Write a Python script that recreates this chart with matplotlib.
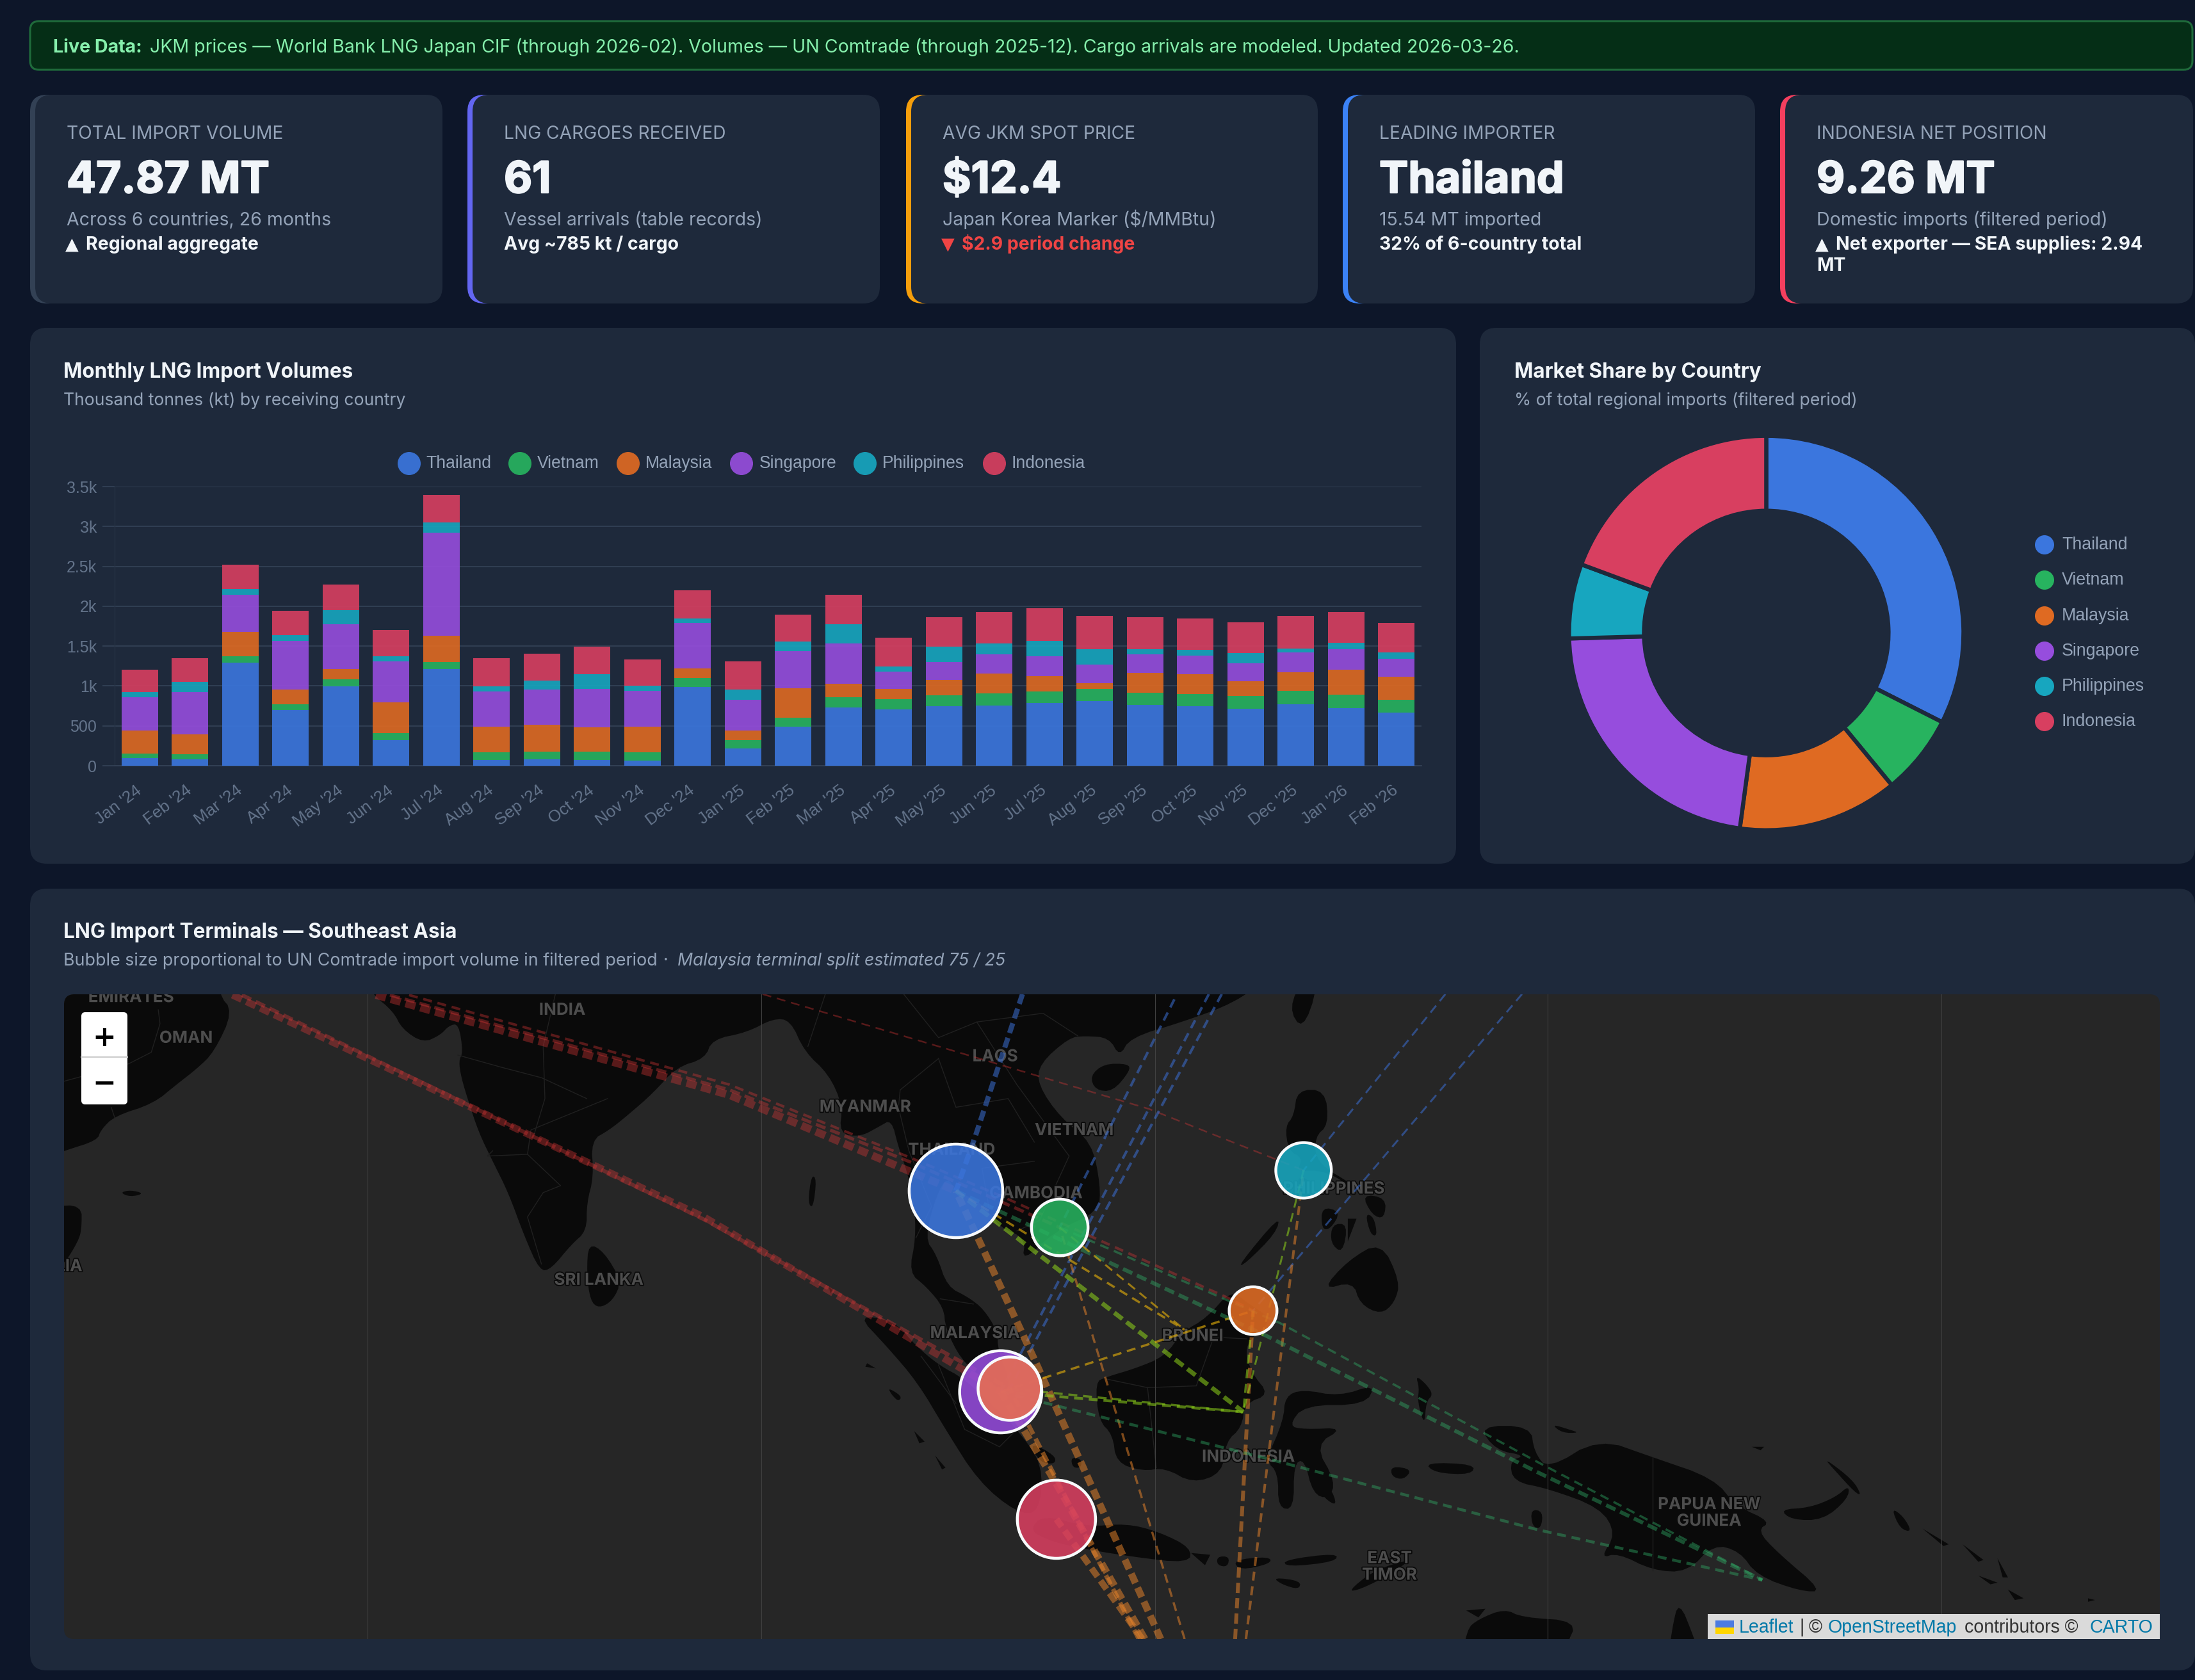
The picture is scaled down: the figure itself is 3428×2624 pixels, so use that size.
# LNG dashboard - KPI cards, stacked bars, donut and terminal map
import numpy as np
import matplotlib
matplotlib.use("Agg")
import matplotlib.pyplot as plt
from matplotlib.patches import FancyBboxPatch, Circle, Polygon, Rectangle
from matplotlib.transforms import ScaledTranslation
import matplotlib.patheffects as pe

W, H = 3428, 2624
plt.rcParams['font.family'] = ['Inter', 'DejaVu Sans']
plt.rcParams['lines.scale_dashes'] = False

# ---- data ----
countries = ['Thailand', 'Vietnam', 'Malaysia', 'Singapore', 'Philippines', 'Indonesia']
colors = ['#3B76DE', '#27B35F', '#DF6A22', '#964DDD', '#17A6BF', '#D83F60']

months = ["Jan '24", "Feb '24", "Mar '24", "Apr '24", "May '24", "Jun '24", "Jul '24", "Aug '24",
          "Sep '24", "Oct '24", "Nov '24", "Dec '24", "Jan '25", "Feb '25", "Mar '25", "Apr '25",
          "May '25", "Jun '25", "Jul '25", "Aug '25", "Sep '25", "Oct '25", "Nov '25", "Dec '25",
          "Jan '26", "Feb '26"]
thailand = [95, 78, 1294, 696, 997, 318, 1209, 71, 81, 74, 61, 990, 213, 493, 733, 706, 743, 757, 784, 814, 763, 750, 716, 770, 720, 665]
vietnam = [60, 68, 78, 78, 84, 88, 95, 101, 98, 101, 111, 108, 111, 108, 125, 132, 138, 149, 149, 152, 152, 152, 159, 169, 169, 159]
malaysia = [287, 247, 307, 182, 132, 385, 328, 314, 331, 307, 314, 125, 118, 368, 172, 122, 193, 253, 193, 68, 253, 243, 186, 236, 318, 294]
singapore = [419, 527, 466, 611, 561, 517, 1290, 446, 449, 483, 456, 564, 382, 470, 503, 220, 230, 240, 250, 236, 226, 236, 220, 247, 250, 223]
philippines = [60, 128, 68, 68, 176, 64, 128, 64, 108, 182, 64, 61, 128, 118, 240, 68, 186, 138, 186, 193, 68, 74, 135, 44, 84, 78]
indonesia = [287, 300, 311, 304, 324, 328, 345, 355, 334, 345, 328, 351, 355, 338, 372, 361, 375, 392, 409, 419, 399, 392, 382, 415, 385, 375]
y_ticks = [0, 500, 1000, 1500, 2000, 2500, 3000, 3500]
y_tick_labels = ['0', '500', '1k', '1.5k', '2k', '2.5k', '3k', '3.5k']

share_mt = [15.54, 3.14, 6.28, 10.73, 2.92, 9.26]

kpi_labels = ['TOTAL IMPORT VOLUME', 'LNG CARGOES RECEIVED', 'AVG JKM SPOT PRICE', 'LEADING IMPORTER', 'INDONESIA NET POSITION']
kpi_values = ['47.87 MT', '61', '$12.4', 'Thailand', '9.26 MT']
kpi_subs = ['Across 6 countries, 26 months', 'Vessel arrivals (table records)', 'Japan Korea Marker ($/MMBtu)',
            '15.54 MT imported', 'Domestic imports (filtered period)']
kpi_marks = ['▲', '', '▼', '', '▲']
kpi_deltas = ['Regional aggregate', 'Avg ~785 kt / cargo', '$2.9 period change', '32% of 6-country total',
              'Net exporter — SEA supplies: 2.94\nMT']
kpi_accents = ['#334155', '#6366F1', '#F59E0B', '#3B82F6', '#F43F5E']

# terminals: lon, lat, volume in MT (Malaysia split 75/25)
term_names = ['TH', 'VN', 'MS', 'PH', 'SG', 'MY', 'ID']
term_lon = [101.0, 106.96, 118.06, 120.96, 103.57, 104.09, 106.77]
term_lat = [12.7, 10.6, 5.82, 13.88, 1.16, 1.34, -6.16]
term_mt = [15.54, 3.14, 1.57, 2.92, 10.73, 4.71, 9.26]
term_color = ['#3B76DE', '#27B35F', '#DF6A22', '#17A6BF', '#964DDD', '#E86E50', '#D83F60']

PNG = (147.3, -9.65)
BONTANG = (117.5, 0.0)
BRUNEI = (114.13, 4.72)
T = {n: (a, b) for n, a, b in zip(term_names, term_lon, term_lat)}

# shipping routes: colour group, weight, waypoints
routes = [
    ('red', 11, [(59.46, 23.95), (86.55, 11.19), T['SG']]),
    ('red', 6, [(60.0, 23.95), (86.55, 11.05), T['MY']]),
    ('red', 12, [(67.7, 23.95), (88.0, 18.2), T['TH']]),
    ('red', 5, [(68.5, 23.95), (88.0, 18.5), (98.4, 14.35), T['VN']]),
    ('red', 4, [(69.6, 23.95), (88.0, 18.8), (98.4, 14.6), (103.6, 12.4), (116.6, 6.56), T['MS']]),
    ('red', 2.5, [(89.9, 24), (112.1, 17.4), T['PH']]),
    ('blue', 8, [(104.82, 24), (102.1, 15.8), T['TH']]),
    ('blue', 4, [(113.54, 23.7), T['VN']]),
    ('blue', 4, [(115.52, 24), T['SG']]),
    ('blue', 4, [(116.26, 24), T['MY']]),
    ('blue', 3, [(129.1, 24), T['PH']]),
    ('blue', 3, [(133.5, 24), T['MS']]),
    ('orange', 11, [(112.76, -13.04), (105.45, 3.14), T['TH']]),
    ('orange', 11, [(111.85, -13.04), (106.66, -3.95), T['SG']]),
    ('orange', 10, [(111.7, -13.04), T['ID']]),
    ('orange', 3.5, [(114.13, -13.04), T['VN']]),
    ('orange', 6, [(117.03, -13.04), T['MS']]),
    ('orange', 4, [(117.65, -13.04), T['PH']]),
    ('orange', 7, [(111.5, -13.04), T['MY']]),
    ('green', 6, [T['TH'], (118.87, 4.35), (134.35, -3.44), PNG]),
    ('green', 3.5, [T['VN'], (119.64, 5.09), (134.35, -2.85), PNG]),
    ('green', 4.5, [T['SG'], (118.57, -2.6), (134.35, -6.75), PNG]),
    ('lime', 7, [T['TH'], BONTANG]),
    ('lime', 4.5, [T['SG'], BONTANG]),
    ('lime', 3.5, [T['MY'], BONTANG]),
    ('lime', 3.5, [T['MS'], BONTANG]),
    ('lime', 3, [T['PH'], BONTANG]),
    ('yellow', 3.5, [T['TH'], BRUNEI]),
    ('yellow', 3, [T['VN'], BRUNEI]),
    ('yellow', 3.5, [T['SG'], T['MS']]),
]
route_colors = {'red': ('#D93636', .38), 'blue': ('#3B6FD4', .55), 'orange': ('#E8842A', .52),
                'green': ('#30B068', .42), 'lime': ('#8FD41A', .55), 'yellow': ('#EAB308', .6)}

# land outlines, lon/lat
land = [
    [(47, 26), (58.7, 26), (58.66, 24), (59.5, 23), (58.4, 20.66), (57.4, 19.7), (56.3, 18.85), (54.9, 17.7), (52.7, 17.0), (51.9, 16.2), (51.7, 15.6), (49.8, 15.0), (47, 14)],
    [(49, 11.8), (50.8, 11.9), (50.8, 10.5), (50.6, 9.8), (49.8, 8.5), (49, 8)],
    [(53, 12.6), (53.6, 12.75), (54.4, 12.55), (53.6, 12.35)],
    # Asia mainland: India, Bengal, Burma, Malay peninsula, Indochina, China
    [(66, 26), (67.5, 24), (68.7, 23.0), (69.2, 22.0), (70.4, 21.2), (71.4, 21.65), (71.9, 22.2), (72.45, 22.3), (72.7, 20.66), (72.45, 20.17),
     (72.6, 19.2), (73, 17.87), (73.6, 16.06), (74.4, 14.4), (75.3, 12.6), (76.2, 10.15), (77.1, 8.1), (77.75, 8.2), (78.9, 9.6), (79.8, 10.4),
     (79.8, 12), (80.2, 13.5), (80.05, 15.6), (81.1, 16.2), (82.1, 17.0), (83.6, 18.3), (84.95, 19.8), (86.6, 20.3), (87, 21.4), (89, 21.8),
     (90.5, 22.6), (91.5, 22.5), (92.3, 20.7), (93.7, 19.4), (94.5, 17.6), (94.3, 16), (95.5, 15.8), (96.6, 16.4), (97.3, 16.8), (97.7, 15.2),
     (98.2, 13.8), (98.6, 12), (98.7, 10), (98.3, 8), (99.3, 7.2), (100.3, 6), (100.4, 4.8), (101.3, 3), (102.5, 2), (103.5, 1.3), (104.2, 1.4),
     (103.4, 3.6), (103.4, 4.6), (102.6, 5.9), (101.7, 6.6), (100.5, 7.2), (99.9, 9), (99.2, 10), (99.9, 12.5), (100.5, 13.5), (101, 12.7),
     (102.5, 12), (103.5, 10.6), (105, 10), (104.8, 8.6), (106.7, 10.4), (109.2, 11.5), (109.3, 13), (108.8, 15.5), (107, 16.9), (105.7, 18.8),
     (105.8, 20), (107.5, 21.5), (108.4, 21.6), (109.8, 21.5), (110.4, 20.4), (111, 21.5), (114, 22.4), (117, 23.5), (119, 25), (119, 26)],
    [(79.9, 9.7), (80.8, 9.2), (81.8, 7.5), (81.3, 6.4), (80.5, 5.95), (80, 6.4), (79.8, 8)],
    [(108.7, 19.3), (109.5, 20), (110.9, 20), (111, 19.6), (110, 18.4), (109, 18.5)],
    [(120.1, 23.2), (120.9, 21.9), (121.8, 24.4), (121, 25)],
    [(95.3, 5.6), (97.5, 5.2), (98.6, 3.9), (100, 2.7), (101.5, 1.9), (103.5, 0), (104.5, -1), (106, -3), (105.8, -5.8), (104.5, -5.8), (102.3, -4), (100.4, -1), (98.8, 1.7), (97, 3.8)],
    [(105.2, -6.8), (106, -5.9), (108.5, -6.6), (110.8, -6.4), (112.7, -6.9), (114.5, -7.8), (114.4, -8.7), (111, -8.3), (108, -7.8), (106.4, -7.4)],
    [(114.5, -8.1), (115.6, -8.2), (115.3, -8.8)],
    [(116, -8.3), (116.7, -8.3), (116.6, -8.9), (116, -8.8)],
    [(116.9, -8.5), (119, -8.3), (119.1, -8.7), (117.3, -9.1)],
    [(119.8, -8.5), (122.9, -8.1), (122.8, -8.6), (120, -8.9)],
    [(119.2, -9.5), (120.8, -9.7), (120.7, -10.2), (119.7, -9.9)],
    [(123.5, -10.3), (125, -9.1), (127.2, -8.4), (126, -9.3), (124.2, -10.2)],
    [(109, 1.7), (109.6, 2), (111.3, 2.5), (113, 3.2), (114, 4.6), (115.4, 5.4), (116.8, 7), (117.7, 6.3), (119.2, 5.3), (118, 4.3), (117.6, 3.5), (118, 2.2), (119, 1), (117.6, 0.5),
     (117.4, -0.9), (116.5, -1.7), (116.3, -3.5), (114.6, -4.1), (113, -3.2), (111.7, -3.4), (110.2, -2.9), (110, -1.3), (109.2, -0.5)],
    [(119.9, 0.9), (120.9, 1.3), (123, 0.9), (125.1, 1.6), (124.5, 0.4), (121, 0.4), (120.1, -0.8), (121, -1), (123.3, -0.9), (121.6, -1.9), (122.8, -4), (122.4, -5), (121.5, -4.7),
     (121, -2.7), (120.4, -3), (120.4, -5.6), (119.5, -5.5), (119.5, -3.5), (118.8, -2.8), (119.8, -0.5)],
    [(120.6, 18.5), (122.2, 18.5), (122.4, 16.5), (121.6, 15.8), (121.7, 14.3), (123.9, 13), (124, 12.6), (122.9, 13.5), (121.7, 13.9), (120.6, 13.8), (120.9, 14.6), (120.1, 15), (119.9, 16.4), (120.4, 17)],
    [(122, 7), (123.5, 8.7), (125.4, 9.8), (126.5, 7.5), (126.2, 6.3), (125.4, 5.6), (124.2, 6.2), (123.8, 7.5)],
    [(117.2, 8.4), (119.6, 11.3), (119.4, 10.3), (117.6, 8.5)],
    [(124.3, 12.5), (125.7, 12.3), (125.6, 11.1), (124.9, 11.3)],
    [(124.5, 11.4), (125, 11.2), (125.2, 10.1), (124.8, 10.2)],
    [(122, 11.8), (123.1, 11.5), (122.5, 10.5), (122, 10.5)],
    [(122.6, 10.8), (123.5, 10.8), (123.2, 9.1), (122.5, 9.7)],
    [(123.5, 11.1), (124, 11.1), (123.5, 9.8)],
    [(120.5, 13.5), (121.3, 13.4), (121.4, 12.3), (121, 12.3)],
    [(105.2, -1.7), (106.7, -2.5), (106.7, -3.0), (105.8, -2.9)],
    [(107.6, -2.6), (108.2, -2.7), (108.2, -3.2), (107.7, -3.2)],
    [(95.9, 2.8), (96.4, 2.5), (95.8, 2.6)],
    [(97.1, 1.4), (97.9, 0.9), (97.7, 0.6), (97.3, 1)],
    [(98.6, -1.1), (99.2, -1.7), (98.9, -1.8)],
    [(99.8, -2.5), (100.4, -3.2), (100.2, -3.3)],
    [(92.7, 13.6), (93, 13.4), (92.8, 11.7), (92.5, 12)],
    [(93.7, 7.2), (93.9, 7), (93.8, 6.8)],
    [(127.4, 2.1), (128, 1.6), (128.4, 1), (128, 0.6), (127.9, -0.8), (127.5, 0.6), (127.6, 1.4)],
    [(127.9, -2.9), (130.8, -3), (130.6, -3.6), (128.5, -3.5)],
    [(126, -3.1), (127.2, -3.3), (126.7, -3.9), (126, -3.7)],
    [(121.7, -4.2), (122.5, -4.3), (122.9, -5.4), (122.2, -5)],
    [(131, -0.8), (134, -0.8), (134.2, -2.3), (135, -3.3), (137.9, -1.5), (141, -2.6), (144.5, -3.8), (145.8, -5.4), (147.8, -6.3), (147, -6.8), (148.2, -8.1), (150.8, -10.3),
     (149.5, -10.3), (147, -9.4), (146, -8), (144.5, -7.6), (143, -9.2), (141, -9.1), (139, -8.1), (138, -8.4), (138.9, -7), (138, -5.5), (135, -4.4), (133, -4), (132.8, -2.8), (133.7, -2.5), (132, -2.2)],
    [(135.2, -0.7), (136.2, -1), (136.8, -1.2), (135.8, -1.2)],
    [(134, -5.6), (134.7, -5.7), (134.6, -6.7), (134.1, -6.6)],
    [(148.3, -5.6), (150, -5.5), (151.5, -4.9), (152.3, -4.2), (152.2, -5), (150.8, -6.2), (149, -6.2)],
    [(150.8, -2.6), (152.5, -3.9), (153, -4.8), (152.6, -4.6), (151.5, -3.4)],
    [(146.7, -2), (147.4, -2), (147.2, -2.2)],
    [(154.7, -5.5), (155.4, -6), (155.9, -6.9), (155.2, -6.7)],
    [(156.5, -6.7), (158, -7.6), (157.7, -7.7)],
    [(158.8, -7.6), (160, -8.5), (159.7, -8.6)],
    [(159.7, -9.4), (160.8, -9.8), (160.4, -9.9)],
    [(160.8, -8.4), (161.4, -9.5), (161.1, -9.5)],
    [(161.4, -10.2), (162.3, -10.7), (161.8, -10.8)],
    [(166, -10.7), (166.4, -10.8), (166, -10.9)],
    [(130, -15), (130.3, -12.5), (131, -11.9), (132.5, -11.3), (133.5, -11.8), (136.7, -12), (136, -13.5), (136, -15)],
    [(130.3, -11.4), (131.4, -11.3), (131, -11.8)],
    [(141.8, -15), (142.1, -12.5), (142.5, -10.8), (143.4, -13), (144, -15)],
]
borders = [
    [(55.2, 23.1), (55.3, 22.3), (54.8, 20.66), (53.5, 20), (49.8, 19)],
    [(52.5, 17.5), (52.7, 16.9)],
    [(72.4, 20.5), (74.9, 19.8), (77.2, 19.2), (79.8, 18)],
    [(78, 24), (77.3, 21), (77.4, 18), (76.8, 16)],
    [(81, 18), (76.6, 16.2), (76.4, 14.8), (78.3, 13), (77.3, 12.6), (76.4, 11.2), (77.2, 8.5)],
    [(74.4, 15), (74.1, 14.7), (76.4, 14.8)],
    [(92.5, 21), (93.5, 24)],
    [(98.7, 10), (99.6, 11.8), (98.3, 15), (97.7, 17.5), (97.8, 18.5), (100, 20.3)],
    [(100, 20.3), (101, 17.5), (104, 18), (105.5, 15.5)],
    [(105.5, 14.4), (102.5, 14), (102.9, 11.7)],
    [(102.2, 22.4), (104.5, 18.8), (107.5, 14.7)],
    [(107.5, 14.7), (105.8, 11), (104.5, 10.4)],
    [(98, 24), (100, 21.5), (102.2, 22.4), (106, 22.9), (108, 21.6)],
    [(100.1, 6.5), (102, 6.2)],
    [(109.6, 1.9), (112, 1.4), (114.8, 1.5), (115.8, 4.3), (117.7, 4.2)],
    [(112, 1.4), (112.5, -3.2)],
    [(141, -2.6), (141, -9.1)],
    [(100, 2.7), (101.5, -1), (103.5, -2), (104.5, -1)],
    [(99, 3.2), (101, 0.5)],
]

map_labels = ['EMIRATES', 'OMAN', 'INDIA', 'LAOS', 'MYANMAR', 'VIETNAM', 'THAILAND', 'CAMBODIA', 'PHILIPPINES',
              'SRI LANKA', 'MALAYSIA', 'BRUNEI', 'INDONESIA', 'PAPUA NEW\nGUINEA', 'EAST\nTIMOR', 'SOMALIA']
label_lon = [53.65, 56.8, 78.4, 103.25, 95.8, 107.8, 100.76, 105.6, 122.7, 80.5, 102.1, 114.6, 117.8, 144.25, 125.9, 48.6]
label_lat = [23.8, 21.46, 23.07, 20.4, 17.5, 16.16, 15.03, 12.54, 12.8, 7.56, 4.5, 4.34, -2.6, -5.8, -8.9, 8.35]
tile_seams = [67.23, 89.82, 112.42, 134.97, 157.58]

# ---- page ----
PAGE = '#0D1629'
CARD = '#1E293B'
fig = plt.figure(figsize=(W / 100, H / 100), dpi=100, facecolor=PAGE)


def px_axes(x0, y0, x1, y1, **kw):
    return fig.add_axes([x0 / W, 1 - y1 / H, (x1 - x0) / W, (y1 - y0) / H], **kw)


bg = fig.add_axes([0, 0, 1, 1], zorder=0)
bg.set_xlim(0, W)
bg.set_ylim(H, 0)
bg.axis('off')


def box(ax, x0, y0, x1, y1, r, fc, ec='none', lw=0, z=1):
    p = FancyBboxPatch((x0, y0), x1 - x0, y1 - y0, boxstyle=f'round,pad=0,rounding_size={r}',
                       fc=fc, ec=ec, lw=lw, zorder=z)
    ax.add_patch(p)
    return p


def txt(ax, x, y, s, px, color, weight='normal', **kw):
    return ax.text(x, y, s, fontsize=px * .72, color=color, fontweight=weight, va=kw.pop('va', 'baseline'), **kw)


def chaikin(pts, n=2):
    p = np.array(pts, dtype=float)
    for _ in range(n):
        q = np.roll(p, -1, axis=0)
        p = np.column_stack([.75 * p + .25 * q, .25 * p + .75 * q]).reshape(-1, 2)
    return p


# banner
box(bg, 47, 33, 3424, 109, 14, '#052E16', '#1F6B3B', 2.2)
txt(bg, 83, 82, 'Live Data:', 28.6, '#86EFAC', 'bold')
txt(bg, 234, 82, 'JKM prices — World Bank LNG Japan CIF (through 2026-02). Volumes — UN Comtrade (through 2025-12). '
    'Cargo arrivals are modeled. Updated 2026-03-26.', 28.5, '#86EFAC')

# kpi cards
card_x0 = [47, 730, 1415, 2097, 2780]
card_x1 = [691, 1374, 2058, 2741, 3425]
heavy = [pe.withStroke(linewidth=1.6, foreground='#F1F5F9')]
for i in range(5):
    x0, x1 = card_x0[i], card_x1[i]
    box(bg, x0, 148, x0 + 80, 474, 26, kpi_accents[i], z=1)
    box(bg, x0 + 8, 148, x1, 474, 26, CARD, z=2)
    tx = x0 + 57
    txt(bg, tx, 217, kpi_labels[i], 28.2, '#94A3B8', zorder=3)
    txt(bg, tx, 301, kpi_values[i], 68, '#F1F5F9', 'bold', zorder=3, path_effects=heavy)
    txt(bg, tx, 352, kpi_subs[i], 28.5, '#94A3B8', zorder=3)
    dcol = '#EF4444' if kpi_marks[i] == '▼' else '#F1F5F9'
    off = 0
    if kpi_marks[i]:
        txt(bg, tx - 2, 390, kpi_marks[i], 27, dcol, family='DejaVu Sans', zorder=3)
        off = 30
    for k, line in enumerate(kpi_deltas[i].split('\n')):
        txt(bg, tx + (off if k == 0 else 0), 390 + k * 33, line, 28.4, dcol, 'bold', zorder=3)

# panels
box(bg, 47, 512, 2274, 1349, 26, CARD)
box(bg, 2311, 512, 3428, 1349, 26, CARD)
box(bg, 47, 1388, 3428, 2609, 26, CARD)
txt(bg, 99, 590, 'Monthly LNG Import Volumes', 31.5, '#F1F5F9', 'bold', zorder=3)
txt(bg, 99, 633, 'Thousand tonnes (kt) by receiving country', 26.6, '#94A3B8', zorder=3)
txt(bg, 2365, 590, 'Market Share by Country', 31.5, '#F1F5F9', 'bold', zorder=3)
txt(bg, 2365, 633, '% of total regional imports (filtered period)', 26.6, '#94A3B8', zorder=3)
txt(bg, 99, 1465, 'LNG Import Terminals — Southeast Asia', 31.5, '#F1F5F9', 'bold', zorder=3)
txt(bg, 99, 1508, 'Bubble size proportional to UN Comtrade import volume in filtered period', 26.8, '#94A3B8', zorder=3)
txt(bg, 1036, 1508, '·', 26.6, '#94A3B8', zorder=3)
txt(bg, 1058, 1508, 'Malaysia terminal split estimated 75 / 25', 26.6, '#94A3B8', zorder=3, style='italic')

# ---- stacked bars ----
ax = px_axes(179, 760, 2220, 1196, zorder=2)
ax.patch.set_alpha(0)
series = [thailand, vietnam, malaysia, singapore, philippines, indonesia]
xpos = np.arange(len(months))
bottom = np.zeros(len(months))
for vals, c in zip(series, colors):
    ax.bar(xpos, vals, .725, bottom=bottom, color=c, alpha=.9, zorder=3, linewidth=0)
    bottom += np.array(vals)
ax.set_xlim(-.5, 25.5)
ax.set_ylim(0, 3500)
ax.set_yticks(y_ticks)
ax.set_yticklabels(y_tick_labels, fontsize=25 * .72, color='#64748B', family='Liberation Sans')
ax.set_xticks(xpos)
ax.set_xticklabels(months, fontsize=26 * .72, color='#64748B', family='Liberation Sans', rotation=37, ha='right',
                   rotation_mode='anchor')
ax.tick_params(axis='y', length=14, width=1.3, color='#334155', pad=6)
ax.tick_params(axis='x', length=0, pad=19)
shift = ScaledTranslation(-7 / 100, 0, fig.dpi_scale_trans)
for lab in ax.get_xticklabels():
    lab.set_transform(lab.get_transform() + shift)
ax.grid(axis='y', color='#334155', lw=1.3, zorder=1)
ax.set_axisbelow(True)
for s in ['top', 'right']:
    ax.spines[s].set_visible(False)
ax.spines['bottom'].set_color('#334155')
ax.spines['bottom'].set_linewidth(1.3)
ax.spines['left'].set_color('#263345')
ax.spines['left'].set_linewidth(1)

leg_dot = [639, 812, 981, 1158, 1351, 1553]
leg_txt = [665, 839, 1008, 1186, 1378, 1580]
for name, c, dx, tx in zip(countries, colors, leg_dot, leg_txt):
    bg.add_patch(Circle((dx, 724), 18, fc=c, alpha=.92, ec='none', zorder=3))
    txt(bg, tx, 724, name, 26.5, '#94A3B8', family='Liberation Sans', va='center', zorder=3)

# ---- donut ----
R = 308 * 1.02
dax = px_axes(2758.4 - R, 988.7 - R, 2758.4 + R, 988.7 + R, zorder=2)
dax.pie(share_mt, colors=colors, startangle=90, counterclock=False, radius=1,
        wedgeprops=dict(width=.38, edgecolor=CARD, linewidth=4.6))
dax.set_xlim(-1.02, 1.02)
dax.set_ylim(-1.02, 1.02)
for name, c, yy in zip(countries, colors, [851, 906, 962, 1017, 1072, 1127]):
    bg.add_patch(Circle((3193, yy), 15, fc=c, ec='none', zorder=3))
    txt(bg, 3220, yy, name, 26.8, '#94A3B8', family='Liberation Sans', va='center', zorder=3)

# ---- map ----
SEA = '#262626'
LAND = '#0A0A0A'
mp = px_axes(100, 1553, 3373, 2560, zorder=3)
mp.set_xlim(49.79, 170.12)
mp.set_ylim(-13.04, 23.99)
mp.set_xticks([])
mp.set_yticks([])
for s in mp.spines.values():
    s.set_visible(False)
for poly in land:
    pts = chaikin(poly, 2) if len(poly) > 3 else np.array(poly)
    mp.add_patch(Polygon(pts, closed=True, fc=LAND, ec='none', zorder=1))
for line in borders:
    arr = np.array(line)
    mp.plot(arr[:, 0], arr[:, 1], color='#202020', lw=1, zorder=1.2)
for lon in tile_seams:
    mp.axvline(lon, color='#404040', lw=.8, zorder=1.4)
halo = [pe.withStroke(linewidth=2.5, foreground='#0A0A0A')]
for s, lo, la in zip(map_labels, label_lon, label_lat):
    mp.text(lo, la, s, fontsize=26 * .72, color='#4D4D4D', ha='center', va='center', family='Inter', fontweight='bold',
            linespacing=1.0, path_effects=halo, zorder=1.6, clip_on=True)
for group, weight, pts in routes:
    arr = np.array(pts)
    c, a = route_colors[group]
    on, off = (14, 9) if weight < 5 else (16, 8)
    mp.plot(arr[:, 0], arr[:, 1], color=c, alpha=a, lw=weight * .72, ls=(0, (on * .72, off * .72)),
            dash_capstyle='butt', zorder=2)
# bubble radius follows sqrt of volume
for lo, la, v, c in sorted(zip(term_lon, term_lat, term_mt, term_color), key=lambda t: -t[2]):
    r = (20.6 + 13.3 * np.sqrt(v)) / 27.2
    mp.add_patch(Circle((lo, la), r, fc=c, alpha=.88, ec='none', zorder=4))
    mp.add_patch(Circle((lo, la), r, fc='none', ec='#F8FAFC', lw=3.2, zorder=4.1))
clip = FancyBboxPatch((49.79, -13.04), 120.33, 37.03, boxstyle='round,pad=0,rounding_size=.6',
                      fc='none', ec='none', transform=mp.transData)
mp.add_patch(clip)
for a in mp.get_children():
    if a is not mp.patch and a is not clip and not isinstance(a, matplotlib.spines.Spine):
        a.set_clip_path(clip)
mp.patch.set_visible(False)
box(bg, 100, 1553, 3373, 2560, 16, SEA, z=2)

# leaflet controls on top of the map
ov = fig.add_axes([0, 0, 1, 1], zorder=5)
ov.set_xlim(0, W)
ov.set_ylim(H, 0)
ov.axis('off')
box(ov, 127, 1581, 199, 1725, 6, '#FFFFFF')
ov.plot([127, 199], [1651, 1651], color='#CCCCCC', lw=1.5, zorder=2)
txt(ov, 163, 1622, '+', 44, '#000000', 'bold', ha='center', va='center', family='DejaVu Sans', zorder=3)
txt(ov, 163, 1692, '−', 44, '#000000', 'bold', ha='center', va='center', family='DejaVu Sans', zorder=3)
ov.add_patch(Rectangle((2667, 2521), 706, 39, fc='#DADADA', ec='none', zorder=1))
ov.add_patch(Rectangle((2679, 2531), 29, 10.5, fc='#4C7BE1', ec='none', zorder=2))
ov.add_patch(Rectangle((2679, 2541.5), 29, 10.5, fc='#FFD500', ec='none', zorder=2))
attr_text = ['Leaflet', '|', '©', 'OpenStreetMap', 'contributors ©', 'CARTO']
attr_x = [2716, 2811, 2825, 2855, 3068, 3264]
attr_col = ['#0078A8', '#333333', '#333333', '#0078A8', '#333333', '#0078A8']
for s, x, c in zip(attr_text, attr_x, attr_col):
    txt(ov, x, 2550, s, 28.5, c, family='Liberation Sans', zorder=3)

fig.savefig('out.png', dpi=100, facecolor=PAGE)
